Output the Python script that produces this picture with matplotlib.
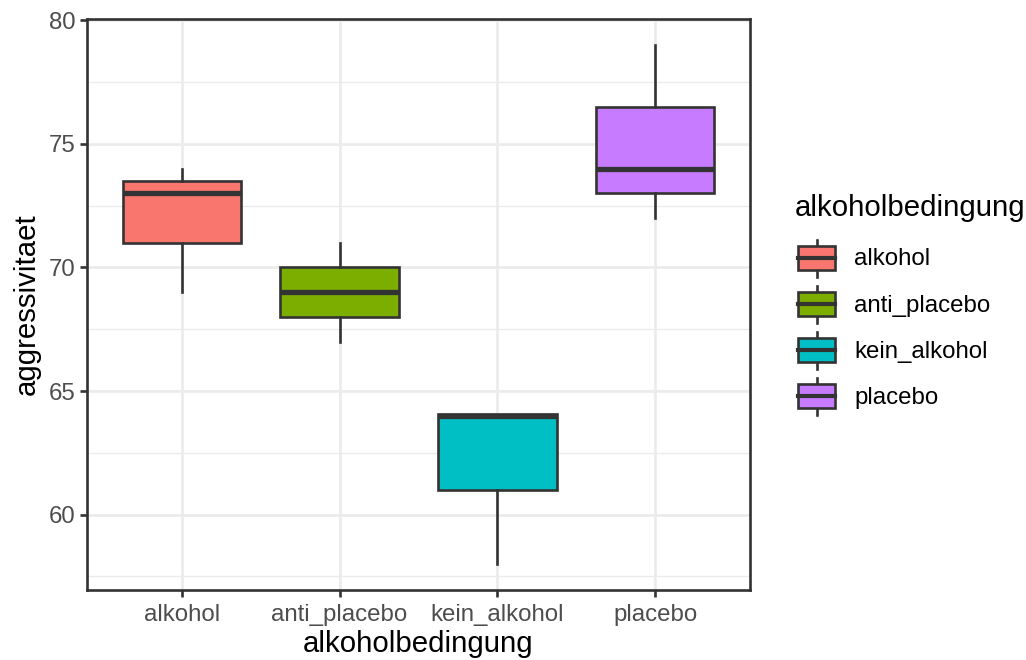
import matplotlib
matplotlib.use("Agg")
import matplotlib.pyplot as plt
from matplotlib.legend_handler import HandlerBase
from matplotlib.patches import Rectangle
from matplotlib.lines import Line2D

plt.rcParams['font.family'] = ['Liberation Sans', 'DejaVu Sans']

# box statistics
groups = ['alkohol', 'anti_placebo', 'kein_alkohol', 'placebo']
whis_low = [69, 67, 58, 72]
q1 = [71, 68, 61, 73]
median = [73, 69, 64, 74]
q3 = [73.5, 70, 64.05, 76.5]
whis_high = [74, 71, 64.05, 79]
colors = ['#F8766D', '#7CAE00', '#00BFC4', '#C77CFF']

edge = '#333333'
lw_box = 1.9
key_shift = 2.2  # points, nudges the legend keys right of the title


class BoxKey(HandlerBase):
    def __init__(self, color):
        super().__init__()
        self.color = color

    def create_artists(self, legend, orig_handle, xdescent, ydescent,
                       width, height, fontsize, trans):
        x0 = -xdescent + key_shift
        w = width - key_shift
        cx = x0 + w / 2
        cy = -ydescent + height / 2
        bh = height * 0.52
        wh = height * 0.8
        rect = Rectangle((x0, cy - bh / 2), w, bh,
                         facecolor=self.color, edgecolor=edge, lw=lw_box,
                         transform=trans)
        med = Line2D([x0, x0 + w], [cy, cy], color=edge,
                     lw=3.0, transform=trans)
        whisk = Line2D([cx, cx], [cy - wh / 2, cy + wh / 2], color=edge,
                       lw=lw_box, transform=trans)
        return [whisk, rect, med]


fig = plt.figure(figsize=(10.26, 6.6), dpi=100)
ax = fig.add_axes([87 / 1026, 1 - 590 / 660, (750 - 87) / 1026, (590 - 19) / 660])

stats = []
for i in range(len(groups)):
    stats.append({'label': groups[i], 'whislo': whis_low[i], 'q1': q1[i],
                  'med': median[i], 'q3': q3[i], 'whishi': whis_high[i],
                  'fliers': []})

positions = list(range(1, len(groups) + 1))
bp = ax.bxp(stats, positions=positions, widths=0.75, patch_artist=True,
            showcaps=False, zorder=3,
            boxprops=dict(edgecolor=edge, linewidth=lw_box),
            medianprops=dict(color=edge, linewidth=3.8, solid_capstyle='butt'),
            whiskerprops=dict(color=edge, linewidth=lw_box))
for patch, c in zip(bp['boxes'], colors):
    patch.set_facecolor(c)

ax.set_xlim(0.4, 4.6)
ax.set_ylim(56.95, 80.05)
ax.set_yticks([60, 65, 70, 75, 80])
ax.set_yticks([57.5, 62.5, 67.5, 72.5, 77.5], minor=True)
ax.set_xticks(positions)
ax.set_xticklabels(groups)

ax.grid(which='major', color='#EBEBEB', linewidth=1.9, zorder=0)
ax.grid(which='minor', axis='y', color='#EBEBEB', linewidth=0.95, zorder=0)
ax.set_axisbelow(True)
for s in ax.spines.values():
    s.set_color(edge)
    s.set_linewidth(1.9)
ax.tick_params(which='major', length=5, width=1.9, color=edge,
               labelsize=17.3, labelcolor='#4D4D4D', pad=3)
ax.tick_params(axis='x', which='major', pad=5)
ax.tick_params(which='minor', length=0)

ax.set_xlabel('alkoholbedingung', fontsize=21.2, labelpad=3)
ax.set_ylabel('aggressivitaet', fontsize=21.2, labelpad=6)

handles = [Rectangle((0, 0), 1, 1) for _ in groups]
hmap = {h: BoxKey(c) for h, c in zip(handles, colors)}
leg = fig.legend(handles, groups, handler_map=hmap, loc='upper left',
                 bbox_to_anchor=(795 / 1026, 1 - 194 / 660), frameon=False,
                 title='alkoholbedingung', title_fontsize=21.2, fontsize=17.3,
                 handlelength=1.67, handleheight=2.57, labelspacing=0.0,
                 handletextpad=0.8, alignment='left', borderpad=0,
                 borderaxespad=0)
leg._legend_box.sep = 9.5  # gap between legend title and keys

fig.savefig('out.png', dpi=100)
